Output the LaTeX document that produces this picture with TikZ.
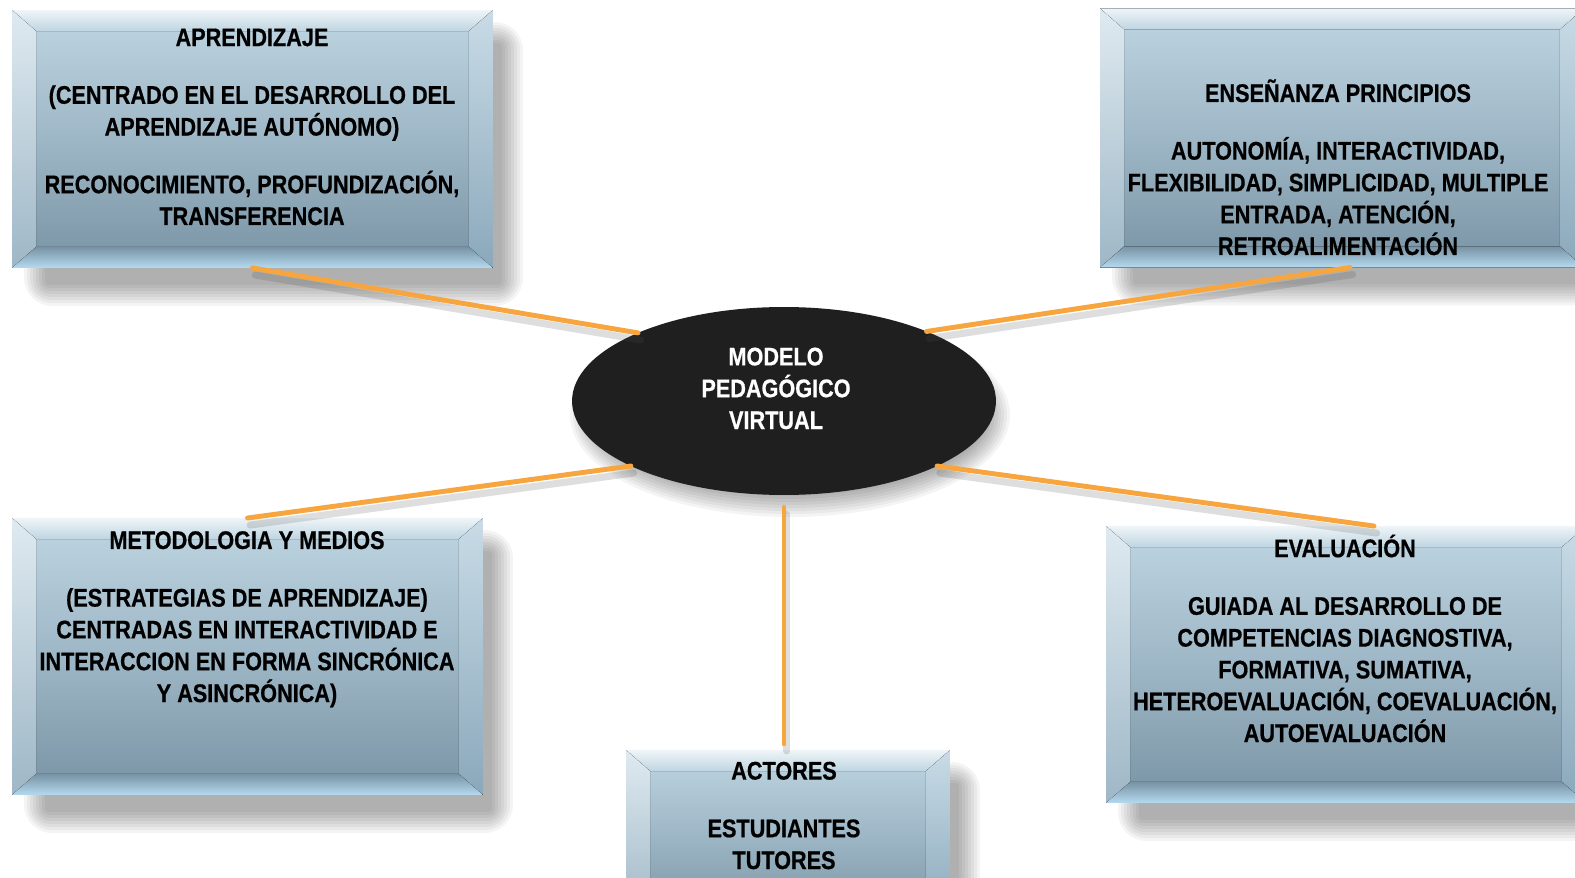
\documentclass[tikz,border=0pt]{standalone}
\usepackage{fontspec}
\setmainfont{Liberation Sans}[FakeStretch=0.85,BoldFeatures={FakeBold=0.6}]
\usetikzlibrary{shapes.geometric,backgrounds}
\definecolor{cajaarriba}{HTML}{BFD5E2}
\definecolor{cajamedio}{HTML}{9EB7C6}
\definecolor{cajaabajo}{HTML}{7893A4}
\definecolor{bordeclaro}{HTML}{B5DAF0}
\definecolor{naranja}{HTML}{F7A53E}
\tikzset{
	caja/.style={rectangle,inner sep=0pt,outer sep=0pt,top color=cajaarriba,bottom color=cajaabajo,middle color=cajamedio},
	texto/.style={anchor=base,align=center,inner sep=0pt,font=\bfseries\fontsize{14.5}{18.1}\selectfont},
	enlace/.style={naranja,line width=2.8pt,preaction={draw=black!70,opacity=.18,line width=4pt,transform canvas={xshift=1.5pt,yshift=-4pt}}},
	sombra/.style={black,opacity=.045}
}
\begin{document}
\begin{tikzpicture}[x=0.02cm,y=-0.02cm,line join=round,line cap=round]
	\useasboundingbox (0,0) rectangle (1575,878);
	\def\bx{24} \def\by{21}
	\node[caja,minimum width=9.62cm,minimum height=5.16cm] (apr) at (252.5,139) {};
	\node[caja,minimum width=9.68cm,minimum height=5.18cm] (ens) at (1342,138) {};
	\node[caja,minimum width=9.42cm,minimum height=5.54cm] (met) at (247.5,656.5) {};
	\node[caja,minimum width=9.6cm,minimum height=5.54cm] (eva) at (1346,664.5) {};
	\node[caja,minimum width=6.48cm,minimum height=3.4cm] (act) at (788,835) {};
	\node[ellipse,fill=black!88,minimum width=8.48cm,minimum height=3.76cm,inner sep=0pt,outer sep=0pt] (mod) at (784,401) {};
	% biseles
	\foreach \n in {apr,ens,met,eva,act}{
		\fill[top color=white!75!cajaarriba,bottom color=cajaarriba] (\n.north west) -- (\n.north east) -- ([shift={(-\bx,\by)}]\n.north east) -- ([shift={(\bx,\by)}]\n.north west) -- cycle;
		\fill[top color=white!50!cajaarriba,bottom color=cajamedio] (\n.north west) -- ([shift={(\bx,\by)}]\n.north west) -- ([shift={(\bx,-\by)}]\n.south west) -- (\n.south west) -- cycle;
		\fill[top color=cajaarriba!85!white,bottom color=cajaabajo!70!bordeclaro] (\n.north east) -- ([shift={(-\bx,\by)}]\n.north east) -- ([shift={(-\bx,-\by)}]\n.south east) -- (\n.south east) -- cycle;
		\fill[top color=cajaabajo,bottom color=bordeclaro] (\n.south west) -- ([shift={(\bx,-\by)}]\n.south west) -- ([shift={(-\bx,-\by)}]\n.south east) -- (\n.south east) -- cycle;
	}
	\begin{pgfonlayer}{background}
		\fill[white] (0,0) rectangle (1575,878);
		\foreach \n in {apr,ens,met,eva,act}{
			\foreach \k in {1,...,8}{
				\fill[sombra,rounded corners=2*\k] ([shift={(36-3*\k,36-3*\k)}]\n.north west) rectangle ([shift={(6+3*\k,14+3*\k)}]\n.south east);
			}
		}
		\foreach \k in {1,...,8}
			\fill[sombra] ([shift={(6,14)}]mod.center) ellipse [x radius=196+3*\k,y radius=78+3*\k];
	\end{pgfonlayer}
	% enlaces
	\draw[enlace] (apr.south) -- (mod.155);
	\draw[enlace] ([shift={(8,0)}]ens.south) -- (mod.26);
	\draw[enlace] (met.north) -- (mod.203);
	\draw[enlace] ([shift={(28,0)}]eva.north) -- (mod.-23);
	\draw[enlace,shorten <=7pt,shorten >=3.5pt] (mod.south) -- (mod.south |- act.north);
	% textos (base = ultima linea)
	\node[texto] (aprT) at (252,225) {APRENDIZAJE\\[14.7pt] (CENTRADO EN EL DESARROLLO DEL\\ APRENDIZAJE AUTÓNOMO)\\[14.7pt] RECONOCIMIENTO, PROFUNDIZACIÓN,\\ TRANSFERENCIA};
	\node[texto] (ensT) at (1338,255) {ENSEÑANZA PRINCIPIOS\\[14.7pt] AUTONOMÍA, INTERACTIVIDAD,\\ FLEXIBILIDAD, SIMPLICIDAD, MULTIPLE\\ ENTRADA, ATENCIÓN,\\ RETROALIMENTACIÓN};
	\node[texto] (metT) at (247,702) {METODOLOGIA Y MEDIOS\\[14.7pt] (ESTRATEGIAS DE APRENDIZAJE)\\ CENTRADAS EN INTERACTIVIDAD E\\ INTERACCION EN FORMA SINCRÓNICA\\ Y ASINCRÓNICA)};
	\node[texto] (evaT) at (1345,742) {EVALUACIÓN\\[14.7pt] GUIADA AL DESARROLLO DE\\ COMPETENCIAS DIAGNOSTIVA,\\ FORMATIVA, SUMATIVA,\\ HETEROEVALUACIÓN, COEVALUACIÓN,\\ AUTOEVALUACIÓN};
	\node[texto] (actT) at (784,869) {ACTORES\\[14.7pt] ESTUDIANTES\\ TUTORES};
	\node[texto,white] (modT) at (776,429) {MODELO\\ PEDAGÓGICO\\ VIRTUAL};
\end{tikzpicture}
\end{document}
